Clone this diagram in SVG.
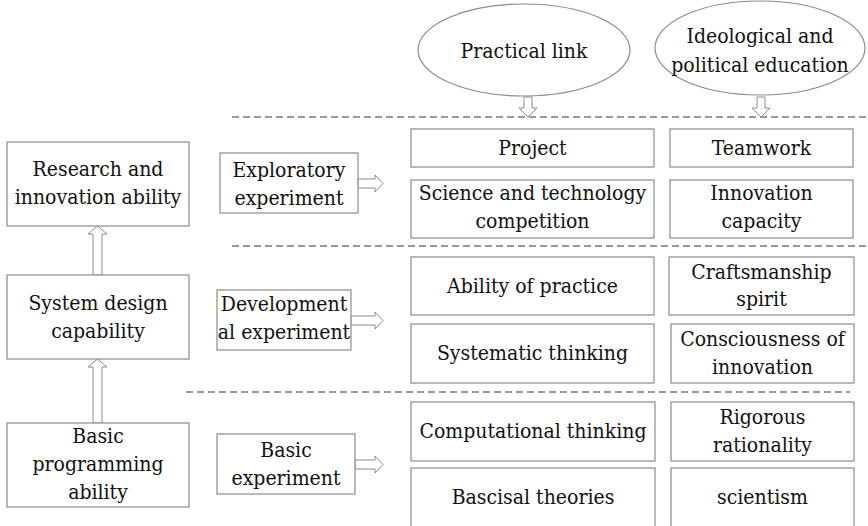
<svg xmlns="http://www.w3.org/2000/svg" width="868" height="526" viewBox="0 0 868 526">
  <style>
    .box { fill: #ffffff; stroke: #8c8c8c; stroke-width: 1.2; }
    .oval { fill: #ffffff; stroke: #8c8c8c; stroke-width: 1.2; }
    .arrow { fill: #ffffff; stroke: #8c8c8c; stroke-width: 1; stroke-linejoin: miter; }
    .sep { stroke: #7a7a7a; stroke-width: 1.3; stroke-dasharray: 7 4; fill: none; }
    text { font-family: 'DejaVu Serif Condensed', 'DejaVu Serif', serif; font-stretch: condensed; font-size: 21px; fill: #111111; text-anchor: middle; }
  </style>

  <rect width="868" height="526" fill="#ffffff"/>

  <!-- level separators -->
  <g id="separators">
    <line class="sep" x1="232" y1="117" x2="868" y2="117"/>
    <line class="sep" x1="232" y1="246" x2="868" y2="246"/>
    <line class="sep" x1="186" y1="392" x2="850" y2="392"/>
  </g>

  <!-- hollow block arrows -->
  <g id="connectors">
    <!-- ovals down to first row -->
    <polygon class="arrow" points="524,97 532,97 532,108 537,108 528,117 519,108 524,108"/>
    <polygon class="arrow" points="757,97 765,97 765,108 770,108 761,117 752,108 757,108"/>
    <!-- abilities upward -->
    <polygon class="arrow" points="93,275 93,234 88,234 97.5,226 107,234 102,234 102,275"/>
    <polygon class="arrow" points="93,423 93,367 88,367 97.5,359 107,367 102,367 102,423"/>
    <!-- experiments to right -->
    <polygon class="arrow" points="358,179 375,179 375,175 383,183.5 375,192 375,188 358,188"/>
    <polygon class="arrow" points="351,316 375,316 375,312 383,320.5 375,329 375,325 351,325"/>
    <polygon class="arrow" points="355,460 375,460 375,456 383,464.5 375,473 375,469 355,469"/>
  </g>

  <!-- column headings -->
  <g id="practical-link">
    <ellipse class="oval" cx="524" cy="50" rx="106" ry="46"/>
    <text x="524" y="58">Practical link</text>
  </g>
  <g id="ideological-education">
    <ellipse class="oval" cx="760" cy="48" rx="105" ry="47"/>
    <text x="760" y="43">Ideological and</text>
    <text x="760" y="72">political education</text>
  </g>

  <!-- ability levels -->
  <g id="research-innovation">
    <rect class="box" x="7" y="142" width="182" height="84"/>
    <text x="98" y="176">Research and</text>
    <text x="98" y="204">innovation ability</text>
  </g>
  <g id="system-design">
    <rect class="box" x="7" y="275" width="182" height="84"/>
    <text x="98" y="310">System design</text>
    <text x="98" y="338">capability</text>
  </g>
  <g id="basic-programming">
    <rect class="box" x="7" y="423" width="182" height="84"/>
    <text x="98" y="443">Basic</text>
    <text x="98" y="471">programming</text>
    <text x="98" y="499">ability</text>
  </g>

  <!-- experiment types -->
  <g id="exploratory-experiment">
    <rect class="box" x="220" y="153" width="138" height="60"/>
    <text x="289" y="177">Exploratory</text>
    <text x="289" y="205">experiment</text>
  </g>
  <g id="developmental-experiment">
    <rect class="box" x="217" y="290" width="134" height="60"/>
    <text x="284" y="311">Development</text>
    <text x="284" y="339">al experiment</text>
  </g>
  <g id="basic-experiment">
    <rect class="box" x="217" y="434" width="138" height="60"/>
    <text x="286" y="457">Basic</text>
    <text x="286" y="485">experiment</text>
  </g>

  <!-- practical link column -->
  <g id="project">
    <rect class="box" x="411" y="129" width="243" height="38"/>
    <text x="532.5" y="155">Project</text>
  </g>
  <g id="competition">
    <rect class="box" x="411" y="180" width="243" height="58"/>
    <text x="532.5" y="200">Science and technology</text>
    <text x="532.5" y="228">competition</text>
  </g>
  <g id="ability-of-practice">
    <rect class="box" x="411" y="257" width="243" height="58"/>
    <text x="532.5" y="293">Ability of practice</text>
  </g>
  <g id="systematic-thinking">
    <rect class="box" x="411" y="324" width="243" height="59"/>
    <text x="532.5" y="360">Systematic thinking</text>
  </g>
  <g id="computational-thinking">
    <rect class="box" x="411" y="402" width="244" height="59"/>
    <text x="533" y="438">Computational thinking</text>
  </g>
  <g id="basic-theories">
    <rect class="box" x="411" y="468" width="244" height="70"/>
    <text x="533" y="504">Bascisal theories</text>
  </g>

  <!-- ideological and political education column -->
  <g id="teamwork">
    <rect class="box" x="670" y="129" width="183" height="38"/>
    <text x="761.5" y="155">Teamwork</text>
  </g>
  <g id="innovation-capacity">
    <rect class="box" x="670" y="180" width="183" height="58"/>
    <text x="761.5" y="200">Innovation</text>
    <text x="761.5" y="228">capacity</text>
  </g>
  <g id="craftsmanship">
    <rect class="box" x="669" y="257" width="185" height="58"/>
    <text x="761.5" y="279">Craftsmanship</text>
    <text x="761.5" y="306">spirit</text>
  </g>
  <g id="consciousness-of-innovation">
    <rect class="box" x="671" y="324" width="183" height="59"/>
    <text x="762.5" y="346">Consciousness of</text>
    <text x="762.5" y="374">innovation</text>
  </g>
  <g id="rigorous-rationality">
    <rect class="box" x="671" y="402" width="183" height="59"/>
    <text x="762.5" y="424">Rigorous</text>
    <text x="762.5" y="452">rationality</text>
  </g>
  <g id="scientism">
    <rect class="box" x="671" y="468" width="183" height="70"/>
    <text x="762.5" y="504">scientism</text>
  </g>
</svg>
